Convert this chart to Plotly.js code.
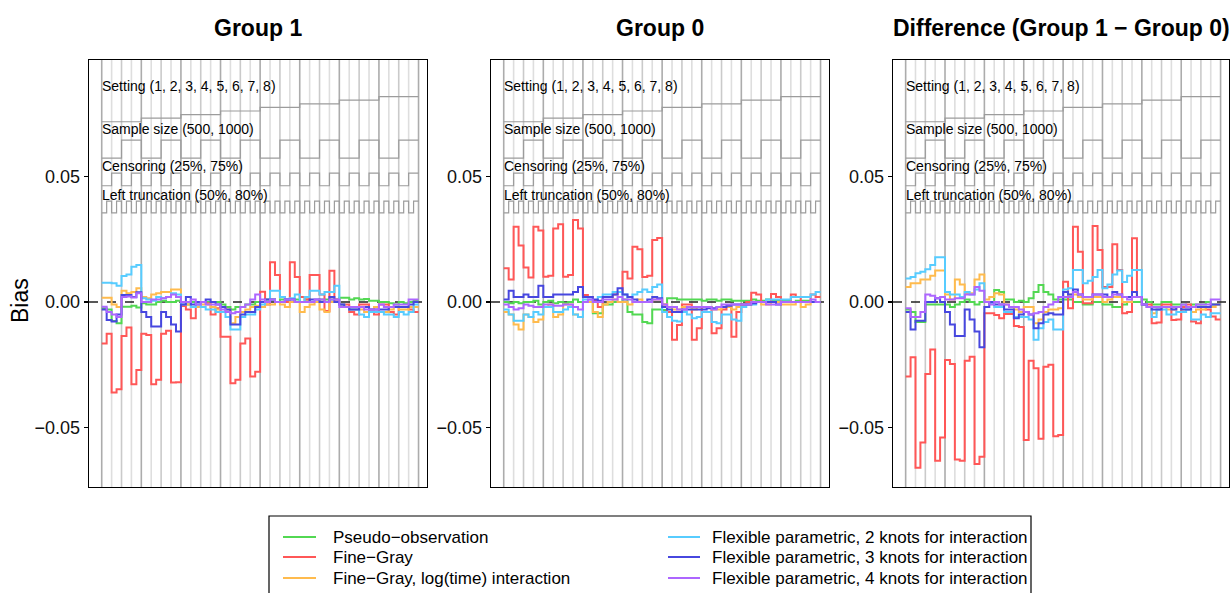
<!DOCTYPE html>
<html><head><meta charset="utf-8">
<script src="https://cdn.plot.ly/plotly-3.0.1.min.js"></script>
<style>html,body{margin:0;padding:0;background:#fff;} #chart{width:1231px;height:593px;}</style>
</head><body><div id="chart"></div>
<script>
// ---------- factors of the nested design ----------
const settings = [1, 2, 3, 4, 5, 6, 7, 8];
const sampleSizes = [500, 1000];
const censoring = ["25%", "75%"];
const truncation = ["50%", "80%"];

const panelTitles = ["Group 1", "Group 0", "Difference (Group 1 \u2212 Group 0)"];
const methods = ["Pseudo\u2212observation", "Fine\u2212Gray", "Fine\u2212Gray, log(time) interaction",
  "Flexible parametric, 2 knots for interaction", "Flexible parametric, 3 knots for interaction",
  "Flexible parametric, 4 knots for interaction"];
const yTickVals = [-0.05, 0, 0.05];
const yTickText = ["\u22120.05", "0.00", "0.05"];

// ---------- Group 1 ----------
const g1_pseudo = [-0.0025,-0.0030,-0.0076,-0.0085,-0.0019,-0.0019,-0.0015,-0.0022,
 -0.0005,-0.0010,-0.0010,0.0000,0.0005,0.0000,0.0000,0.0005,
 0.0000,-0.0010,0.0000,-0.0010,0.0000,0.0000,0.0000,0.0000,
 -0.0010,-0.0020,-0.0030,-0.0020,-0.0020,-0.0010,-0.0010,0.0000,
 0.0000,0.0010,0.0010,0.0000,0.0010,0.0010,0.0000,0.0010,
 0.0000,0.0010,0.0000,0.0000,0.0010,0.0010,0.0010,0.0010,
 0.0017,0.0017,0.0010,0.0015,0.0010,0.0012,0.0005,0.0005,
 0.0000,0.0000,-0.0005,-0.0010,0.0000,-0.0005,0.0000,0.0005];
const g1_fg = [-0.0165,-0.0127,-0.0361,-0.0348,-0.0135,-0.0102,-0.0328,-0.0271,
 -0.0127,-0.0131,-0.0328,-0.0310,-0.0127,-0.0115,-0.0321,-0.0320,
 -0.0016,-0.0030,-0.0065,-0.0020,0.0000,-0.0005,-0.0050,-0.0025,
 -0.0138,-0.0138,-0.0324,-0.0310,-0.0165,-0.0145,-0.0297,-0.0278,
 0.0041,-0.0010,0.0158,0.0108,0.0020,0.0000,0.0158,0.0100,
 0.0020,0.0010,0.0108,0.0108,0.0030,-0.0036,0.0124,0.0010,
 -0.0010,-0.0010,-0.0040,-0.0050,-0.0010,-0.0010,-0.0040,-0.0050,
 -0.0010,-0.0010,-0.0040,-0.0050,-0.0020,-0.0020,-0.0030,-0.0040];
const g1_fglog = [0.0017,0.0017,-0.0010,-0.0020,0.0045,0.0035,0.0040,0.0055,
 0.0020,0.0015,0.0030,0.0035,0.0040,0.0040,0.0050,0.0050,
 0.0000,-0.0010,-0.0020,-0.0020,-0.0010,-0.0010,-0.0020,-0.0030,
 -0.0020,-0.0030,-0.0085,-0.0060,-0.0040,-0.0030,-0.0020,-0.0015,
 -0.0020,-0.0010,-0.0010,0.0000,-0.0010,-0.0020,0.0000,0.0000,
 -0.0040,-0.0020,-0.0010,0.0000,-0.0030,-0.0040,0.0000,0.0000,
 -0.0010,-0.0020,-0.0030,-0.0030,-0.0030,-0.0040,-0.0030,-0.0020,
 -0.0040,-0.0040,-0.0030,-0.0020,-0.0030,-0.0030,-0.0020,-0.0020];
const g1_fp2 = [0.0077,0.0077,0.0075,0.0065,0.0104,0.0110,0.0140,0.0147,
 0.0015,0.0010,0.0005,0.0020,0.0015,0.0020,0.0035,0.0030,
 -0.0010,0.0000,-0.0020,-0.0010,-0.0020,-0.0030,-0.0030,-0.0040,
 -0.0040,-0.0060,-0.0110,-0.0110,-0.0060,-0.0050,-0.0050,-0.0030,
 -0.0010,0.0000,0.0045,0.0045,0.0020,0.0010,0.0015,0.0030,
 0.0000,0.0020,0.0045,0.0045,0.0030,0.0040,0.0040,0.0065,
 -0.0010,-0.0020,-0.0030,-0.0030,-0.0050,-0.0060,-0.0040,-0.0040,
 -0.0040,-0.0050,-0.0050,-0.0060,-0.0040,-0.0050,-0.0040,-0.0010];
const g1_fp3 = [-0.0030,-0.0072,-0.0078,-0.0050,0.0028,0.0028,0.0020,0.0039,
 -0.0040,-0.0060,-0.0098,-0.0098,-0.0040,-0.0060,-0.0090,-0.0118,
 -0.0010,0.0020,-0.0010,0.0000,0.0000,0.0010,0.0000,-0.0010,
 -0.0020,-0.0030,-0.0090,-0.0090,-0.0050,-0.0040,-0.0040,-0.0020,
 0.0000,0.0010,0.0010,0.0000,0.0000,0.0010,0.0010,0.0000,
 0.0000,0.0000,0.0010,0.0010,0.0000,0.0000,0.0020,0.0000,
 -0.0010,-0.0020,-0.0030,-0.0030,-0.0020,-0.0020,-0.0030,-0.0030,
 -0.0030,-0.0030,-0.0020,-0.0020,-0.0020,-0.0020,-0.0010,0.0000];
const g1_fp4 = [-0.0019,-0.0040,-0.0050,-0.0060,0.0020,0.0022,0.0018,0.0035,
 0.0000,0.0000,0.0010,0.0010,0.0015,0.0020,0.0030,0.0020,
 0.0000,0.0000,0.0010,-0.0010,0.0000,-0.0010,-0.0010,-0.0010,
 -0.0030,-0.0040,-0.0045,-0.0040,-0.0020,-0.0010,0.0010,0.0030,
 0.0010,0.0000,0.0010,0.0000,0.0000,0.0010,0.0010,0.0000,
 0.0000,0.0000,0.0000,0.0010,0.0010,0.0000,0.0010,0.0010,
 -0.0020,-0.0020,-0.0020,-0.0020,-0.0020,-0.0030,-0.0030,-0.0030,
 -0.0010,-0.0020,-0.0020,-0.0010,-0.0010,-0.0010,0.0010,0.0010];

// ---------- Group 0 ----------
const g0_pseudo = [0.0000,-0.0005,0.0000,-0.0005,0.0000,0.0000,0.0005,-0.0010,
 0.0000,0.0005,-0.0005,0.0000,-0.0005,0.0000,0.0010,0.0000,
 0.0000,0.0000,-0.0045,-0.0045,-0.0010,-0.0010,0.0000,0.0000,
 0.0010,-0.0040,-0.0050,-0.0050,-0.0080,-0.0085,-0.0030,-0.0030,
 -0.0032,0.0015,0.0015,0.0010,0.0010,0.0010,0.0010,0.0010,
 0.0005,0.0010,0.0010,0.0005,0.0010,0.0010,0.0005,0.0005,
 0.0005,0.0005,0.0010,0.0005,0.0005,0.0010,0.0005,0.0005,
 0.0005,0.0005,0.0000,0.0005,0.0005,0.0005,0.0000,0.0000];
const g0_fg = [0.0134,0.0090,0.0300,0.0225,0.0137,0.0098,0.0300,0.0285,
 0.0101,0.0105,0.0293,0.0310,0.0101,0.0108,0.0327,0.0293,
 0.0028,0.0020,0.0005,-0.0020,0.0020,0.0020,0.0030,0.0040,
 0.0120,0.0094,0.0220,0.0210,0.0100,0.0105,0.0247,0.0255,
 -0.0010,-0.0040,-0.0150,-0.0092,-0.0010,-0.0010,-0.0150,-0.0105,
 -0.0020,-0.0020,-0.0125,-0.0105,-0.0030,-0.0020,-0.0138,-0.0040,
 -0.0010,0.0000,0.0037,0.0030,0.0000,0.0000,0.0032,0.0020,
 0.0000,0.0000,0.0030,0.0020,0.0000,0.0000,0.0030,0.0020];
const g0_fglog = [-0.0040,-0.0050,-0.0090,-0.0110,-0.0050,-0.0060,-0.0080,-0.0070,
 -0.0020,-0.0010,-0.0060,-0.0050,-0.0010,-0.0010,-0.0050,-0.0060,
 0.0000,0.0000,-0.0040,-0.0060,-0.0010,0.0000,0.0010,0.0000,
 0.0000,-0.0010,0.0000,0.0010,0.0000,0.0000,0.0010,0.0010,
 -0.0010,-0.0020,-0.0030,-0.0030,-0.0020,-0.0020,-0.0030,-0.0020,
 -0.0020,-0.0020,-0.0030,-0.0030,-0.0020,-0.0020,-0.0030,-0.0020,
 -0.0010,-0.0010,0.0000,0.0000,-0.0010,-0.0010,0.0000,0.0000,
 -0.0010,-0.0010,-0.0010,0.0000,-0.0020,-0.0010,0.0000,0.0000];
const g0_fp2 = [-0.0030,-0.0050,-0.0075,-0.0075,-0.0050,-0.0060,-0.0040,-0.0050,
 -0.0020,-0.0020,-0.0040,-0.0040,-0.0030,-0.0020,-0.0050,-0.0060,
 0.0010,0.0010,0.0000,0.0020,0.0030,0.0030,0.0040,0.0040,
 0.0030,0.0020,0.0030,0.0040,0.0050,0.0040,0.0060,0.0070,
 -0.0040,-0.0060,-0.0075,-0.0078,-0.0040,-0.0050,-0.0065,-0.0060,
 -0.0040,-0.0040,-0.0080,-0.0085,-0.0050,-0.0050,-0.0070,-0.0075,
 -0.0020,-0.0010,-0.0010,0.0000,0.0000,0.0010,0.0010,0.0010,
 0.0010,0.0010,0.0020,0.0020,0.0020,0.0020,0.0030,0.0040];
const g0_fp3 = [0.0010,0.0045,0.0020,0.0020,0.0030,0.0020,0.0020,0.0065,
 0.0020,0.0020,0.0030,0.0030,0.0030,0.0030,0.0040,0.0060,
 0.0020,0.0020,0.0010,0.0005,0.0020,0.0020,0.0030,0.0055,
 0.0030,0.0020,0.0010,0.0000,0.0000,0.0010,0.0020,0.0015,
 -0.0020,-0.0030,-0.0040,-0.0040,-0.0030,-0.0030,-0.0030,-0.0030,
 -0.0030,-0.0025,-0.0025,-0.0020,-0.0020,-0.0015,-0.0010,-0.0010,
 -0.0010,-0.0010,-0.0005,0.0000,0.0000,0.0000,0.0000,-0.0010,
 0.0000,0.0000,0.0000,0.0000,0.0000,0.0000,0.0000,0.0000];
const g0_fp4 = [-0.0010,-0.0020,-0.0030,-0.0025,-0.0010,-0.0015,-0.0020,-0.0020,
 -0.0010,-0.0010,-0.0015,-0.0015,-0.0010,-0.0010,-0.0020,-0.0030,
 0.0000,0.0010,0.0000,0.0000,0.0010,0.0010,0.0010,0.0020,
 0.0010,0.0010,0.0000,0.0000,0.0000,0.0000,0.0010,0.0010,
 -0.0010,-0.0020,-0.0020,-0.0030,-0.0030,-0.0020,-0.0020,-0.0020,
 -0.0020,-0.0020,-0.0030,-0.0020,-0.0010,-0.0010,-0.0010,-0.0010,
 -0.0010,-0.0010,0.0000,0.0000,0.0000,-0.0010,-0.0010,-0.0010,
 0.0000,0.0000,0.0000,0.0000,0.0000,0.0000,0.0010,0.0000];

// ---------- Difference (Group 1 - Group 0) ----------
const d_pseudo = [-0.0030,-0.0040,-0.0080,-0.0080,-0.0010,-0.0010,-0.0010,-0.0010,
 -0.0010,-0.0020,-0.0010,0.0000,0.0010,0.0000,-0.0010,0.0000,
 0.0000,0.0000,0.0048,0.0040,0.0010,0.0010,0.0000,0.0005,
 0.0000,0.0015,0.0040,0.0068,0.0040,0.0030,0.0010,0.0010,
 0.0010,0.0010,0.0000,0.0000,-0.0010,-0.0010,0.0000,0.0000,
 -0.0010,-0.0010,-0.0020,-0.0020,-0.0010,0.0000,0.0000,0.0000,
 0.0010,0.0000,-0.0010,-0.0010,0.0000,0.0000,-0.0010,-0.0010,
 -0.0010,-0.0020,-0.0010,-0.0010,-0.0010,0.0000,-0.0010,-0.0010];
const d_fg = [-0.0297,-0.0220,-0.0660,-0.0560,-0.0287,-0.0189,-0.0632,-0.0540,
 -0.0231,-0.0247,-0.0627,-0.0632,-0.0234,-0.0218,-0.0645,-0.0616,
 -0.0045,-0.0045,-0.0052,-0.0065,-0.0048,-0.0048,-0.0096,-0.0100,
 -0.0550,-0.0234,-0.0264,-0.0545,-0.0258,-0.0250,-0.0535,-0.0530,
 0.0081,-0.0025,0.0300,0.0200,-0.0005,-0.0005,0.0303,0.0207,
 0.0060,0.0060,0.0230,0.0127,-0.0045,-0.0040,0.0254,0.0020,
 -0.0010,-0.0010,-0.0085,-0.0082,-0.0010,-0.0010,-0.0072,-0.0070,
 -0.0020,-0.0010,-0.0078,-0.0085,-0.0020,-0.0030,-0.0058,-0.0070];
const d_fglog = [0.0060,0.0075,0.0075,0.0090,0.0090,0.0105,0.0125,0.0125,
 0.0030,0.0010,0.0090,0.0070,0.0035,0.0035,0.0090,0.0110,
 0.0010,0.0020,0.0035,0.0030,-0.0010,-0.0020,-0.0030,-0.0040,
 -0.0020,-0.0020,-0.0085,-0.0070,-0.0040,-0.0030,-0.0030,-0.0025,
 0.0020,0.0030,0.0030,0.0020,0.0010,0.0010,0.0020,0.0020,
 0.0000,0.0010,0.0020,0.0020,0.0000,0.0000,0.0020,0.0020,
 -0.0010,-0.0020,-0.0045,-0.0030,-0.0020,-0.0030,-0.0030,-0.0020,
 -0.0030,-0.0030,-0.0040,-0.0030,-0.0030,-0.0020,-0.0020,-0.0010];
const d_fp2 = [0.0094,0.0100,0.0114,0.0120,0.0130,0.0147,0.0178,0.0178,
 0.0040,0.0030,0.0030,0.0020,0.0040,0.0030,0.0050,0.0075,
 0.0000,-0.0005,-0.0020,-0.0020,-0.0040,-0.0040,-0.0060,-0.0060,
 -0.0060,-0.0070,-0.0150,-0.0105,-0.0080,-0.0070,-0.0110,-0.0110,
 0.0050,0.0055,0.0127,0.0127,0.0075,0.0085,0.0100,0.0127,
 0.0055,0.0070,0.0110,0.0125,0.0080,0.0105,0.0127,0.0127,
 -0.0010,-0.0020,-0.0060,-0.0030,-0.0030,-0.0050,-0.0050,-0.0040,
 -0.0040,-0.0030,-0.0070,-0.0070,-0.0050,-0.0060,-0.0045,-0.0045];
const d_fp3 = [-0.0040,-0.0110,-0.0075,-0.0075,0.0000,0.0000,0.0015,0.0000,
 -0.0040,-0.0090,-0.0135,-0.0135,-0.0030,-0.0070,-0.0118,-0.0180,
 -0.0020,0.0000,-0.0010,-0.0010,-0.0030,-0.0030,-0.0065,-0.0050,
 -0.0040,-0.0050,-0.0105,-0.0085,-0.0050,-0.0045,-0.0050,-0.0050,
 0.0040,0.0030,0.0050,0.0030,0.0020,0.0020,0.0030,0.0030,
 0.0030,0.0020,0.0040,0.0030,0.0020,0.0020,0.0040,0.0020,
 -0.0010,-0.0020,-0.0030,-0.0030,-0.0020,-0.0020,-0.0030,-0.0020,
 -0.0030,-0.0030,-0.0020,-0.0020,-0.0020,-0.0020,-0.0010,-0.0010];
const d_fp4 = [-0.0025,-0.0060,-0.0060,-0.0040,0.0030,0.0025,0.0015,0.0020,
 0.0010,0.0010,0.0015,0.0015,0.0030,0.0030,0.0060,0.0045,
 0.0000,-0.0010,0.0000,-0.0010,-0.0010,-0.0020,-0.0020,-0.0030,
 -0.0040,-0.0050,-0.0045,-0.0040,-0.0020,-0.0010,0.0000,0.0020,
 0.0020,0.0020,0.0040,0.0030,0.0020,0.0020,0.0030,0.0030,
 0.0020,0.0020,0.0030,0.0030,0.0020,0.0010,0.0020,0.0020,
 -0.0010,-0.0020,-0.0020,-0.0020,-0.0020,-0.0020,-0.0020,-0.0020,
 -0.0010,-0.0020,-0.0020,-0.0010,-0.0010,-0.0010,0.0010,0.0010];

// ---------- assembly ----------
const panels = [
  [g1_pseudo, g1_fg, g1_fglog, g1_fp2, g1_fp3, g1_fp4],
  [g0_pseudo, g0_fg, g0_fglog, g0_fp2, g0_fp3, g0_fp4],
  [d_pseudo, d_fg, d_fglog, d_fp2, d_fp3, d_fp4]
];
const colors = ["#52d852", "#ff5757", "#ffbb4d", "#57ccff", "#4747df", "#ad66ff"];
const FONT = "Liberation Sans, Arial, Helvetica, sans-serif";

// scenario list (setting outermost, truncation innermost)
const scen = [];
settings.forEach((s, si) => sampleSizes.forEach((n, ni) => censoring.forEach((c, ci) =>
  truncation.forEach((t, ti) => scen.push({si, ni, ci, ti})))));
const N = scen.length;

function stepXY(vals) {
  const x = [], y = [];
  vals.forEach((v, i) => { x.push(i); y.push(v); });
  x.push(vals.length); y.push(vals[vals.length - 1]);
  return {x, y};
}

// positions (data units) of the reference step lines and their labels
const refDefs = [
  {key: "si", lo: 0.0718, step: 0.00143, label: "Setting (" + settings.join(", ") + ")", ly: 0.0860},
  {key: "ni", lo: 0.0573, step: 0.0072, label: "Sample size (" + sampleSizes.join(", ") + ")", ly: 0.0688},
  {key: "ci", lo: 0.0463, step: 0.0050, label: "Censoring (" + censoring.join(", ") + ")", ly: 0.0540},
  {key: "ti", lo: 0.0355, step: 0.0047, label: "Left truncation (" + truncation.join(", ") + ")", ly: 0.0427}
];

const doms = [[89/1231, 427/1231], [491/1231, 829/1231], [893/1231, 1229/1231]];
const ydom = [106/593, 533/593];
const XR = [-2.57, 65.71], YR = [-0.0737, 0.0964];

const traces = [], shapes = [], annotations = [];
const layout = {
  width: 1231, height: 593, margin: {l: 0, r: 0, t: 0, b: 0},
  paper_bgcolor: "#fff", plot_bgcolor: "#fff", showlegend: false,
  font: {family: FONT, color: "#000"}
};

panels.forEach((series, p) => {
  const sfx = p === 0 ? "" : String(p + 1);
  const xa = "x" + sfx, ya = "y" + sfx;
  layout["xaxis" + sfx] = {domain: doms[p], range: XR, anchor: ya, showline: true, mirror: true,
    linecolor: "#000", linewidth: 1.3, showgrid: false, zeroline: false, showticklabels: false,
    ticks: "", fixedrange: true};
  layout["yaxis" + sfx] = {domain: ydom, range: YR, anchor: xa, showline: true, mirror: true,
    linecolor: "#000", linewidth: 1.3, showgrid: false, zeroline: false, tickvals: yTickVals,
    ticktext: yTickText, ticks: "outside", ticklen: 4, tickwidth: 1.2, tickcolor: "#000",
    tickfont: {size: 18, family: FONT, color: "#111"}, fixedrange: true};

  // vertical separators
  for (let k = 0; k <= N; k += 2) {
    const col = k % 8 === 0 ? "#acacac" : (k % 4 === 0 ? "#cacaca" : "#dedede");
    shapes.push({type: "line", layer: "below", xref: xa, yref: ya + " domain", x0: k, x1: k, y0: 0, y1: 1,
      line: {color: col, width: 1.6}});
  }
  // zero reference
  shapes.push({type: "line", layer: "below", xref: xa + " domain", yref: ya, x0: 0, x1: 1, y0: 0, y1: 0,
    line: {color: "#222", width: 1.5, dash: "dash"}});

  // nested-loop reference lines
  refDefs.forEach(r => {
    const vals = scen.map(s => r.lo + s[r.key] * r.step);
    const xy = stepXY(vals);
    traces.push({type: "scatter", mode: "lines", x: xy.x, y: xy.y, xaxis: xa, yaxis: ya,
      line: {color: "#9c9c9c", width: 1.2, shape: "hv"}, hoverinfo: "skip"});
    annotations.push({xref: xa, yref: ya, x: 0, y: r.ly, text: r.label, showarrow: false,
      xanchor: "left", yanchor: "middle", xshift: -2, font: {size: 14, family: FONT, color: "#000"}});
  });

  // method series
  series.forEach((vals, m) => {
    const xy = stepXY(vals);
    traces.push({type: "scatter", mode: "lines", name: methods[m], x: xy.x, y: xy.y, xaxis: xa, yaxis: ya,
      line: {color: colors[m], width: 2, shape: "hv"}});
  });

  annotations.push({xref: "paper", yref: "paper", x: (doms[p][0] + doms[p][1]) / 2, y: (593 - 28) / 593,
    text: "<b>" + panelTitles[p] + "</b>", showarrow: false, xanchor: "center", yanchor: "middle",
    font: {size: 23, family: FONT, color: "#000"}});
});

annotations.push({xref: "paper", yref: "paper", x: 20 / 1231, y: (593 - 300) / 593, text: "Bias",
  textangle: -90, showarrow: false, xanchor: "center", yanchor: "middle", font: {size: 23, family: FONT, color: "#000"}});

// legend (two columns of three)
shapes.push({type: "rect", xref: "paper", yref: "paper", x0: 269 / 1231, x1: 1031 / 1231,
  y0: (593 - 600) / 593, y1: (593 - 516) / 593, line: {color: "#000", width: 1.2}, fillcolor: "rgba(0,0,0,0)"});
const rowsY = [537, 557, 578];
const colLine = [[283, 316], [668, 700]];
const colText = [331, 710];
methods.forEach((m, i) => {
  const c = Math.floor(i / 3), r = i % 3;
  const yy = (593 - rowsY[r]) / 593;
  shapes.push({type: "line", xref: "paper", yref: "paper", x0: colLine[c][0] / 1231, x1: colLine[c][1] / 1231,
    y0: yy, y1: yy, line: {color: colors[i], width: 2}});
  annotations.push({xref: "paper", yref: "paper", x: colText[c] / 1231, y: yy, text: m, showarrow: false,
    xanchor: "left", yanchor: "middle", font: {size: 17, family: FONT, color: "#000"}});
});

layout.shapes = shapes;
layout.annotations = annotations;
Plotly.newPlot("chart", traces, layout, {displayModeBar: false, staticPlot: true});
</script>
</body></html>
